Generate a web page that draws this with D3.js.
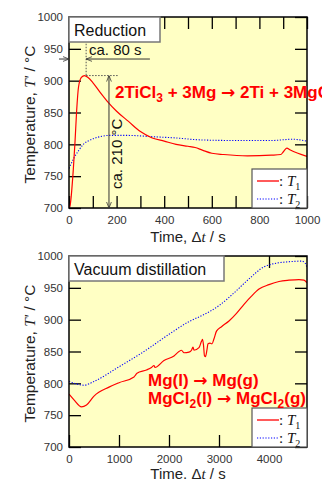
<!DOCTYPE html>
<html lang="en">
<head>
    <meta charset="UTF-8">
    <title>Reduction and vacuum distillation temperatures</title>
    <script src="https://d3js.org/d3.v7.min.js"></script>
    <style>
        body { margin: 0; background: #fff; }
        svg { display: block; font-family: Arial, "Liberation Sans", sans-serif; }
    </style>
</head>
<body>
    <div id="chart"></div>

    <script>
        // Reduction stage (top panel)
        var redTime = [0, 5, 18, 25, 32, 40, 52, 65, 80, 100, 130, 160, 200, 250, 300, 350, 400, 450, 500, 530,
                       560, 600, 650, 750, 850, 890, 900, 915, 930, 1000];
        var redT1 = [700, 705, 760, 802, 852, 890, 905, 908, 905, 897, 882, 868, 852, 836, 820, 810, 805, 800, 797, 795,
                     791, 786, 784, 782, 783, 784, 788, 794, 791, 781];
        var redTime2 = [0, 20, 40, 60, 90, 130, 170, 250, 350, 450, 550, 700, 850, 940, 970, 1000];
        var redT2 = [762, 778, 790, 800, 807, 812, 814, 814, 812, 810, 807, 806, 806, 808, 807, 805];

        // Vacuum distillation stage (bottom panel)
        var vacTime = [0, 100, 250, 350, 500, 800, 1000, 1300, 1330, 1360, 1550, 1650, 1700, 1720, 1900, 2100, 2200, 2250,
                       2300, 2400, 2450, 2480, 2500, 2600, 2650, 2670, 2690, 2710, 2730, 2760, 2780, 2820, 2860, 2900,
                       2950, 3050, 3200, 3350, 3500, 3650, 3800, 4000, 4200, 4400, 4600, 4700, 4760];
        var vacT1 = [783, 774, 763, 766, 780, 794, 801, 810, 813, 816, 821, 825, 828, 825, 836, 843, 850, 852,
                     848, 849, 852, 857, 852, 856, 866, 869, 860, 843, 842, 853, 862, 863, 862, 870,
                     882, 889, 898, 910, 924, 937, 948, 955, 960, 962, 963, 962, 958];
        var vacTime2 = [0, 150, 300, 500, 1000, 1500, 2000, 2400, 2700, 3000, 3300, 3600, 3900, 4100, 4400, 4650, 4720, 4760];
        var vacT2 = [803, 799, 797, 803, 826, 850, 877, 897, 908, 922, 942, 964, 983, 988, 991, 992, 989, 982];

        var tempTicks = [700, 750, 800, 850, 900, 950, 1000];

        var width = 322, height = 481;
        var svg = d3.select("#chart").append("svg")
            .attr("width", width)
            .attr("height", height);

        var defs = svg.append("defs");
        ["arrowEnd", "arrowStart"].forEach(function (id, i) {
            defs.append("marker")
                .attr("id", id)
                .attr("viewBox", "0 0 10 10")
                .attr("refX", 10).attr("refY", 5)
                .attr("markerWidth", 6).attr("markerHeight", 6)
                .attr("orient", i === 0 ? "auto" : "auto-start-reverse")
                .append("path")
                .attr("d", "M0,1 L10,5 L0,9")
                .attr("fill", "none")
                .attr("stroke", "#333")
                .attr("stroke-width", 1.3);
        });

        var fmt = d3.format("d");

        function panel(opt) {
            var x = d3.scaleLinear().domain([0, opt.xMax]).range([69, 307]);
            var y = d3.scaleLinear().domain([700, 1000]).range([opt.bottom, opt.bottom - 191]);
            var g = svg.append("g");

            g.append("rect")
                .attr("x", x.range()[0]).attr("y", y.range()[1])
                .attr("width", x.range()[1] - x.range()[0])
                .attr("height", y.range()[0] - y.range()[1])
                .attr("fill", "#ffffc4");

            defs.append("clipPath").attr("id", opt.id)
                .append("rect")
                .attr("x", x.range()[0]).attr("y", y.range()[1])
                .attr("width", x.range()[1] - x.range()[0])
                .attr("height", y.range()[0] - y.range()[1]);

            // axes with inward ticks
            var left = g.append("g").attr("transform", "translate(" + x.range()[0] + ",0)")
                .call(d3.axisLeft(y).tickValues(tempTicks).tickSize(-12).tickFormat(fmt));
            var right = g.append("g").attr("transform", "translate(" + x.range()[1] + ",0)")
                .call(d3.axisRight(y).tickValues(tempTicks).tickSize(-12).tickFormat(""));
            var bottom = g.append("g").attr("transform", "translate(0," + y.range()[0] + ")")
                .call(d3.axisBottom(x).tickValues(opt.xTicks).tickSize(-12)
                    .tickFormat(function (d) { return opt.xLabels.indexOf(d) >= 0 ? fmt(d) : ""; }));
            var top = g.append("g").attr("transform", "translate(0," + y.range()[1] + ")")
                .call(d3.axisTop(x).tickValues(opt.xTicks).tickSize(-12).tickFormat(""));

            [left, right, bottom, top].forEach(function (a) {
                a.select(".domain").remove();
                a.selectAll(".tick line").attr("stroke", "#000").attr("stroke-width", 1.3);
                a.selectAll(".tick text").attr("fill", "#333").style("font-size", "11.5px");
            });
            left.selectAll(".tick text").attr("x", -6);
            bottom.selectAll(".tick text").attr("y", 8);

            var line = d3.line()
                .x(function (d) { return x(d[0]); })
                .y(function (d) { return y(d[1]); })
                .curve(d3.curveMonotoneX);

            var lines = g.append("g").attr("clip-path", "url(#" + opt.id + ")");
            lines.append("path")
                .datum(d3.zip(opt.time2, opt.t2))
                .attr("d", line)
                .attr("fill", "none")
                .attr("stroke", "#0000ff")
                .attr("stroke-width", 1.1)
                .attr("stroke-dasharray", "1.2,1.6");
            lines.append("path")
                .datum(d3.zip(opt.time1, opt.t1))
                .attr("d", line)
                .attr("fill", "none")
                .attr("stroke", "#ff0000")
                .attr("stroke-width", 1.2);

            g.append("rect")
                .attr("x", x.range()[0]).attr("y", y.range()[1])
                .attr("width", x.range()[1] - x.range()[0])
                .attr("height", y.range()[0] - y.range()[1])
                .attr("fill", "none")
                .attr("stroke", "#000")
                .attr("stroke-width", 1.5);

            // stage name box
            g.append("rect")
                .attr("x", x.range()[0]).attr("y", y.range()[1])
                .attr("width", opt.nameWidth).attr("height", 25)
                .attr("fill", "#fff")
                .attr("stroke", "#777")
                .attr("stroke-width", 1.5);
            g.append("text")
                .attr("x", x.range()[0] + 5).attr("y", y.range()[1] + 19)
                .style("font-size", "16px")
                .attr("fill", "#111")
                .text(opt.name);

            // legend
            var lg = g.append("g").attr("transform", "translate(252," + (y.range()[0] - 39) + ")");
            lg.append("rect").attr("width", 55).attr("height", 39)
                .attr("fill", "#fff").attr("stroke", "#555").attr("stroke-width", 1.2);
            [["#ff0000", null, "1", 12], ["#0000ff", "1.2,1.6", "2", 30]].forEach(function (l) {
                lg.append("line")
                    .attr("x1", 5).attr("x2", 27).attr("y1", l[3]).attr("y2", l[3])
                    .attr("stroke", l[0]).attr("stroke-width", l[1] ? 1.1 : 1.3)
                    .attr("stroke-dasharray", l[1]);
                var t = lg.append("text").attr("x", 27).attr("y", l[3] + 5)
                    .style("font-family", "'Liberation Serif', 'DejaVu Serif', serif")
                    .style("font-size", "15px").attr("fill", "#111");
                t.append("tspan").text(": ");
                t.append("tspan").style("font-style", "italic").text("T");
                t.append("tspan").attr("dy", 4).style("font-size", "10px").text(l[2]);
            });

            // axis titles
            var yl = g.append("text")
                .attr("transform", "translate(35," + ((y.range()[0] + y.range()[1]) / 2 + 2) + ") rotate(-90)")
                .attr("text-anchor", "middle")
                .style("font-size", "15.5px").attr("fill", "#222");
            yl.append("tspan").text("Temperature, ");
            yl.append("tspan").style("font-family", "'Liberation Serif', serif").style("font-style", "italic").text("T'");
            yl.append("tspan").text(" / \u00b0C");

            var xl = g.append("text")
                .attr("x", 188).attr("y", y.range()[0] + opt.titleGap)
                .attr("text-anchor", "middle")
                .style("font-size", "15px").attr("fill", "#222");
            xl.append("tspan").text(opt.timeWord + " \u0394");
            xl.append("tspan").style("font-family", "'Liberation Serif', serif").style("font-style", "italic").text("t");
            xl.append("tspan").text(" / s");

            return { x: x, y: y, g: g };
        }

        var p1 = panel({
            id: "clipTop", bottom: 208, xMax: 1000,
            xTicks: d3.range(0, 1001, 100), xLabels: [0, 200, 400, 600, 800, 1000],
            time1: redTime, t1: redT1, time2: redTime2, t2: redT2,
            name: "Reduction", nameWidth: 91, timeWord: "Time,", titleGap: 34
        });

        var p2 = panel({
            id: "clipBottom", bottom: 447, xMax: 4760,
            xTicks: [0, 1000, 2000, 3000, 4000], xLabels: [0, 1000, 2000, 3000, 4000],
            time1: vacTime, t1: vacT1, time2: vacTime2, t2: vacT2,
            name: "Vacuum distillation", nameWidth: 155, timeWord: "Time.", titleGap: 32
        });

        // reduction annotations: time to peak and temperature rise
        var a = p1.g, x1 = p1.x, y1 = p1.y;
        var peakT = 72, peakTemp = 908;
        a.append("line")
            .attr("x1", x1(peakT)).attr("x2", x1(peakT))
            .attr("y1", y1(958)).attr("y2", y1(peakTemp))
            .attr("stroke", "#555").attr("stroke-dasharray", "1.5,1.5");
        a.append("line")
            .attr("x1", x1(peakT)).attr("x2", x1(205))
            .attr("y1", y1(peakTemp)).attr("y2", y1(peakTemp))
            .attr("stroke", "#555").attr("stroke-dasharray", "1.5,1.5");
        a.append("line")
            .attr("x1", x1(0) - 10).attr("x2", x1(0))
            .attr("y1", y1(934)).attr("y2", y1(934))
            .attr("stroke", "#333").attr("marker-end", "url(#arrowEnd)");
        a.append("line")
            .attr("x1", x1(340)).attr("x2", x1(peakT))
            .attr("y1", y1(934)).attr("y2", y1(934))
            .attr("stroke", "#333").attr("marker-end", "url(#arrowEnd)");
        a.append("text")
            .attr("x", x1(84)).attr("y", y1(940))
            .style("font-size", "15px").attr("fill", "#111")
            .text("ca. 80 s");
        a.append("line")
            .attr("x1", x1(168)).attr("x2", x1(168))
            .attr("y1", y1(peakTemp)).attr("y2", y1(700))
            .attr("stroke", "#333")
            .attr("marker-start", "url(#arrowStart)")
            .attr("marker-end", "url(#arrowEnd)");
        a.append("text")
            .attr("transform", "translate(" + (x1(200) + 5) + "," + y1(785) + ") rotate(-90)")
            .attr("text-anchor", "middle")
            .style("font-size", "15px").attr("fill", "#111")
            .text("ca. 210 \u00b0C");

        var arrowFont = "'DejaVu Sans', sans-serif";
        var eq = a.append("text")
            .attr("x", 115).attr("y", 98)
            .style("font-size", "17px").style("font-weight", "bold")
            .attr("fill", "#ff0000");
        eq.append("tspan").text("2TiCl");
        eq.append("tspan").attr("dy", 4).style("font-size", "12px").text("3");
        eq.append("tspan").attr("dy", -4).text(" + 3Mg ");
        eq.append("tspan").style("font-family", arrowFont).text("\u2192");
        eq.append("tspan").text(" 2Ti + 3MgCl");
        eq.append("tspan").attr("dy", 4).style("font-size", "12px").text("2");

        // distillation annotations
        var b = p2.g;
        var r1 = b.append("text")
            .attr("x", 148).attr("y", 386)
            .style("font-size", "17px").style("font-weight", "bold")
            .attr("fill", "#ff0000");
        r1.append("tspan").text("Mg(l) ");
        r1.append("tspan").style("font-family", arrowFont).text("\u2192");
        r1.append("tspan").text(" Mg(g)");
        var eq2 = b.append("text")
            .attr("x", 148).attr("y", 404)
            .style("font-size", "17px").style("font-weight", "bold")
            .attr("fill", "#ff0000");
        eq2.append("tspan").text("MgCl");
        eq2.append("tspan").attr("dy", 4).style("font-size", "12px").text("2");
        eq2.append("tspan").attr("dy", -4).text("(l) ");
        eq2.append("tspan").style("font-family", arrowFont).text("\u2192");
        eq2.append("tspan").text(" MgCl");
        eq2.append("tspan").attr("dy", 4).style("font-size", "12px").text("2");
        eq2.append("tspan").attr("dy", -4).text("(g)");
    </script>
</body>
</html>
